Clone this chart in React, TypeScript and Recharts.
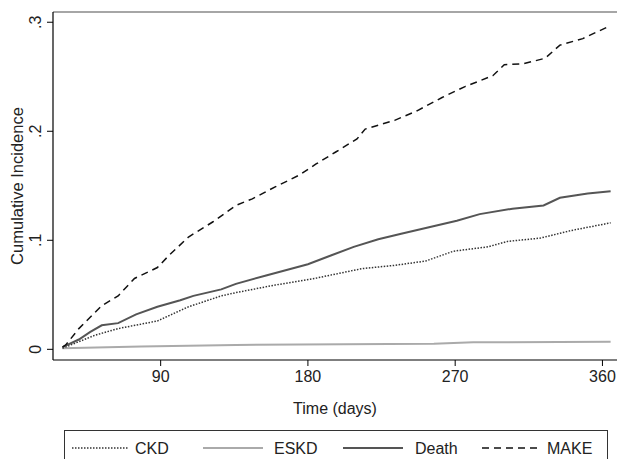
import { LineChart, Line, XAxis, YAxis, ReferenceLine } from 'recharts'

// cumulative incidence, per outcome
const ckdDays = [30, 50, 64, 88, 107, 127, 136, 160, 184, 213, 233, 252, 269, 290, 302, 322, 341, 365]
const ckdValues = [0.001, 0.013, 0.019, 0.026, 0.039, 0.049, 0.052, 0.059, 0.065, 0.074, 0.077, 0.081, 0.09, 0.094, 0.099, 0.102, 0.109, 0.116]

const eskdDays = [30, 78, 136, 257, 281, 365]
const eskdValues = [0.001, 0.0025, 0.004, 0.005, 0.0064, 0.007]

const deathDays = [30, 40, 47, 54, 64, 75, 88, 102, 110, 127, 136, 155, 180, 194, 208, 223, 237, 254, 271, 285, 305, 324, 334, 351, 365]
const deathValues = [0.002, 0.009, 0.016, 0.022, 0.024, 0.032, 0.039, 0.045, 0.049, 0.055, 0.06, 0.068, 0.078, 0.086, 0.094, 0.101, 0.106, 0.112, 0.118, 0.124, 0.129, 0.132, 0.139, 0.143, 0.145]

const makeDays = [30, 32, 40, 54, 64, 74, 88, 95, 107, 122, 136, 146, 160, 175, 185, 197, 210, 215, 233, 247, 262, 276, 293, 300, 312, 325, 334, 348, 365]
const makeValues = [0.002, 0.004, 0.019, 0.04, 0.049, 0.065, 0.075, 0.086, 0.103, 0.117, 0.132, 0.138, 0.149, 0.16, 0.17, 0.181, 0.193, 0.202, 0.21, 0.219, 0.231, 0.241, 0.251, 0.261, 0.262, 0.267, 0.279, 0.285, 0.297]

const xTicks = [90, 180, 270, 360]
const yTicks = [0, 0.1, 0.2, 0.3]
const yTickLabels = ['0', '.1', '.2', '.3']

const xDomain = [24.2, 368.9]
const yDomain = [-0.0098, 0.3094]

const font = '"Liberation Sans", Arial, Helvetica, sans-serif'

const toPoints = (days: number[], vals: number[]) => days.map((d, i) => ({ day: d, v: vals[i] }))

const RotatedYTick = (props: any) => {
  const { y, payload, index } = props
  const bx = 41
  return (
    <text
      x={bx}
      y={y}
      transform={`rotate(-90 ${bx} ${y})`}
      textAnchor="middle"
      fontSize={16}
      fontFamily={font}
      fill="#222"
    >
      {yTickLabels[index] ?? String(payload.value)}
    </text>
  )
}

function LegendBox() {
  return (
    <svg
      width={617}
      height={40}
      style={{ position: 'absolute', left: 0, top: 420 }}
    >
      <rect x={64.5} y={10.5} width={543} height={40} fill="none" stroke="#333" strokeWidth={1} />
      <g fontFamily={font} fontSize={16} fill="#222">
        <line x1={72} x2={128} y1={28} y2={28} stroke="#333" strokeWidth={1.5} strokeDasharray="1.5 1.5" />
        <text x={135} y={34}>CKD</text>
        <line x1={203} x2={263} y1={28} y2={28} stroke="#aaa" strokeWidth={2} />
        <text x={274} y={34}>ESKD</text>
        <line x1={343} x2={403} y1={28} y2={28} stroke="#555" strokeWidth={2} />
        <text x={415} y={34}>Death</text>
        <line x1={482} x2={537} y1={28} y2={28} stroke="#111" strokeWidth={1.5} strokeDasharray="7 5" />
        <text x={547} y={34}>MAKE</text>
      </g>
    </svg>
  )
}

export default function App() {
  return (
    <div style={{ position: 'absolute', left: 0, top: 0, width: 617, height: 459, background: '#fff', overflow: 'hidden' }}>
      <LineChart width={617} height={459} margin={{ top: 12, right: 0, bottom: 0, left: 0 }}>
        <XAxis
          type="number"
          dataKey="day"
          domain={xDomain}
          ticks={xTicks}
          allowDataOverflow
          height={99}
          axisLine={{ stroke: '#000', strokeWidth: 1.2 }}
          tickLine={{ stroke: '#000' }}
          tickSize={6}
          tickMargin={5}
          tick={{ fontSize: 16, fontFamily: font, fill: '#222' }}
          label={{ value: 'Time (days)', position: 'insideBottom', offset: 45, fontSize: 16, fontFamily: font, fill: '#222' }}
        />
        <YAxis
          type="number"
          domain={yDomain}
          ticks={yTicks}
          allowDataOverflow
          width={53}
          axisLine={{ stroke: '#000', strokeWidth: 1.2 }}
          tickLine={{ stroke: '#000' }}
          tickSize={6}
          tick={<RotatedYTick />}
          label={{
            content: () => (
              <text
                x={23}
                y={186}
                transform="rotate(-90 23 186)"
                textAnchor="middle"
                fontSize={16.5}
                fontFamily={font}
                fill="#222"
              >
                Cumulative Incidence
              </text>
            ),
          }}
        />
        <ReferenceLine y={yDomain[1]} stroke="#888" strokeWidth={1.5} />
        <Line
          data={toPoints(eskdDays, eskdValues)}
          dataKey="v"
          type="linear"
          stroke="#aaa"
          strokeWidth={2}
          dot={false}
          isAnimationActive={false}
        />
        <Line
          data={toPoints(ckdDays, ckdValues)}
          dataKey="v"
          type="linear"
          stroke="#333"
          strokeWidth={1.5}
          strokeDasharray="1.5 1.5"
          dot={false}
          isAnimationActive={false}
        />
        <Line
          data={toPoints(deathDays, deathValues)}
          dataKey="v"
          type="linear"
          stroke="#555"
          strokeWidth={2}
          dot={false}
          isAnimationActive={false}
        />
        <Line
          data={toPoints(makeDays, makeValues)}
          dataKey="v"
          type="linear"
          stroke="#111"
          strokeWidth={1.5}
          strokeDasharray="7 5"
          dot={false}
          isAnimationActive={false}
        />
      </LineChart>
      <LegendBox />
    </div>
  )
}
